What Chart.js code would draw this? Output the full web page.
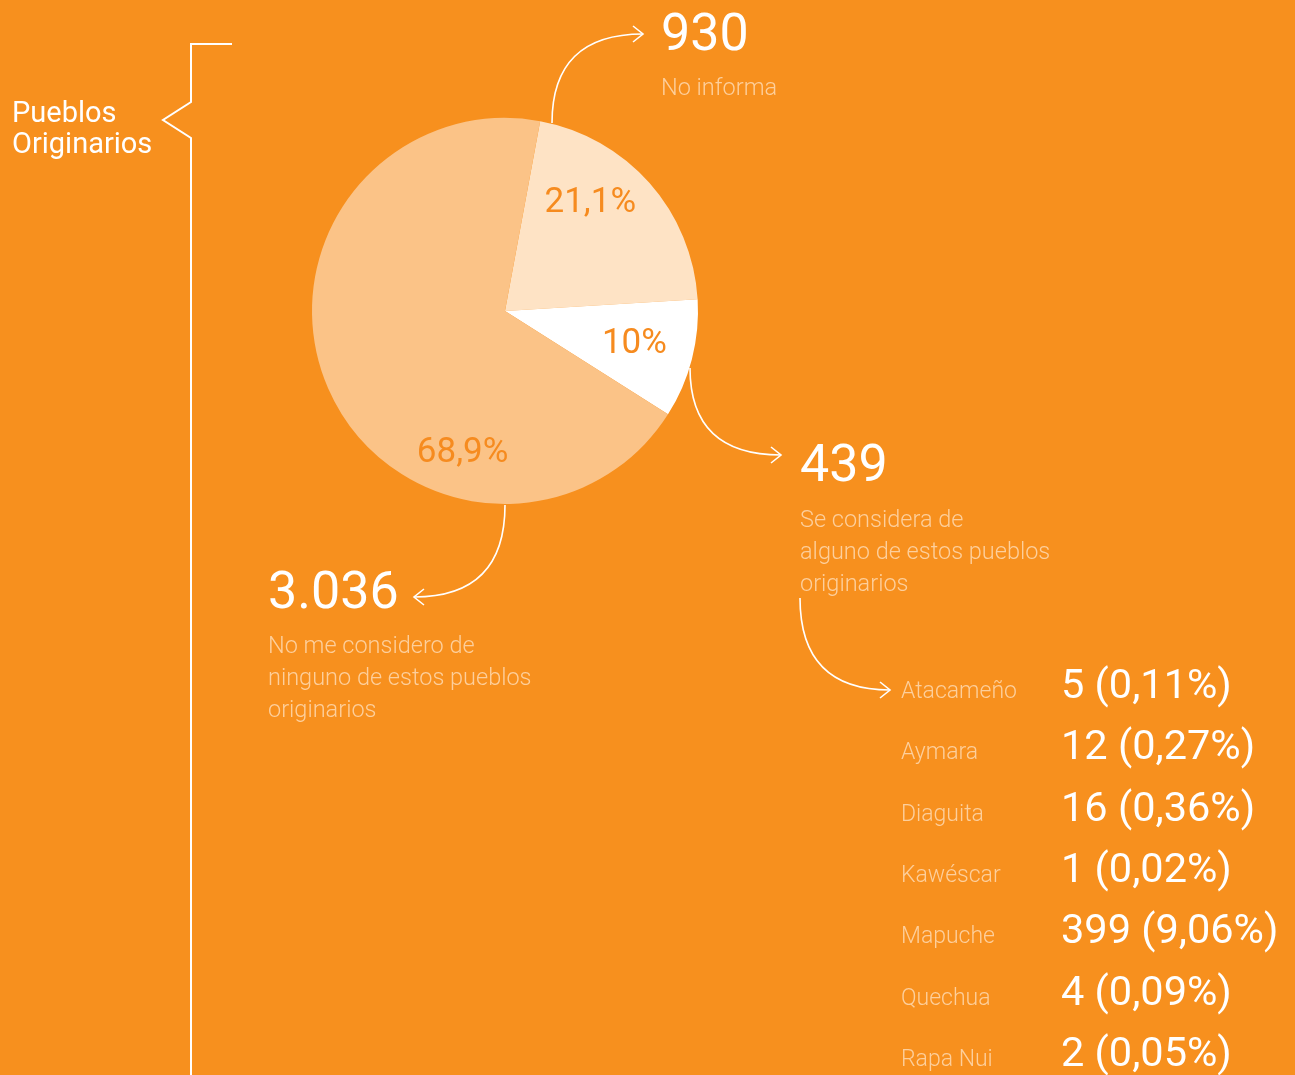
<!DOCTYPE html>
<html>
<head>
<meta charset="utf-8">
<script src="https://cdn.jsdelivr.net/npm/chart.js@4"></script>
<style>
  html, body { margin: 0; padding: 0; background: #F7901E; }
  #wrap { width: 1295px; height: 1075px; position: relative; }
</style>
</head>
<body>
<div id="wrap"><canvas id="myChart" width="1295" height="1075"></canvas></div>
<script>
// pie data
const categories = ['No informa', 'Se considera de alguno de estos pueblos originarios', 'No me considero de ninguno de estos pueblos originarios'];
const counts = [930, 439, 3036];
const pctLabels = ['21,1%', '10%', '68,9%'];

// breakdown of the 439
const pueblos = ['Atacameño', 'Aymara', 'Diaguita', 'Kawéscar', 'Mapuche', 'Quechua', 'Rapa Nui'];
const pueblosCounts = [5, 12, 16, 1, 399, 4, 2];
const pueblosPct = ['0,11%', '0,27%', '0,36%', '0,02%', '9,06%', '0,09%', '0,05%'];

const title = ['Pueblos', 'Originarios'];

const fmt = n => String(n).replace(/\B(?=(\d{3})+(?!\d))/g, '.');

const sliceColors = ['#FEE3C5', '#FFFFFF', '#FBC387'];
const descColor = '#FDCF9C';

function arrow(ctx, x0, y0, cx, cy, x1, y1, dir) {
  ctx.beginPath();
  ctx.moveTo(x0, y0);
  ctx.quadraticCurveTo(cx, cy, x1, y1);
  ctx.stroke();
  ctx.beginPath();
  ctx.moveTo(x1 - dir * 10, y1 - 8);
  ctx.lineTo(x1, y1);
  ctx.lineTo(x1 - dir * 10, y1 + 8);
  ctx.stroke();
}

const annotations = {
  id: 'annotations',
  afterDraw(chart) {
    const ctx = chart.ctx;
    const arcs = chart.getDatasetMeta(0).data;
    ctx.save();

    // percent labels inside slices
    const place = [[0.36, 0.72], [0.48, 0.69], [0.30, 0.76]];
    ctx.font = '400 35px Roboto';
    ctx.fillStyle = '#F68B1F';
    ctx.textAlign = 'center';
    ctx.textBaseline = 'middle';
    arcs.forEach((a, i) => {
      const ang = a.startAngle + (a.endAngle - a.startAngle) * place[i][0];
      const r = a.outerRadius * place[i][1];
      ctx.fillText(pctLabels[i], a.x + Math.cos(ang) * r, a.y + Math.sin(ang) * r + 2);
    });

    // bracket on the left
    ctx.strokeStyle = '#FFFFFF';
    ctx.lineWidth = 2;
    ctx.beginPath();
    ctx.moveTo(232, 44);
    ctx.lineTo(191, 44);
    ctx.lineTo(191, 102);
    ctx.lineTo(163, 120);
    ctx.lineTo(191, 138);
    ctx.lineTo(191, 1075);
    ctx.stroke();

    ctx.textAlign = 'left';
    ctx.textBaseline = 'alphabetic';
    ctx.fillStyle = '#FFFFFF';
    ctx.font = '400 29px Roboto';
    ctx.fillText(title[0], 12, 122);
    ctx.fillText(title[1], 12, 153);

    // arrows
    ctx.lineWidth = 1.6;
    arrow(ctx, 552, 123, 552, 34, 643, 34, 1);
    arrow(ctx, 690, 368, 690, 455, 781, 455, 1);
    arrow(ctx, 505, 505, 505, 597, 414, 597, -1);
    arrow(ctx, 800, 598, 800, 690, 890, 690, 1);

    // big numbers
    ctx.fillStyle = '#FFFFFF';
    ctx.font = '400 52px Roboto';
    ctx.fillText(fmt(counts[0]), 661, 50);
    ctx.fillText(fmt(counts[1]), 800, 481);
    ctx.fillText(fmt(counts[2]), 268, 608);

    // descriptions
    ctx.fillStyle = descColor;
    ctx.font = '300 23.5px Roboto';
    ctx.fillText(categories[0], 661, 95);
    ['Se considera de', 'alguno de estos pueblos', 'originarios'].forEach((t, i) => ctx.fillText(t, 800, 527 + i * 32));
    ['No me considero de', 'ninguno de estos pueblos', 'originarios'].forEach((t, i) => ctx.fillText(t, 268, 653 + i * 32));

    // breakdown list
    pueblos.forEach((p, i) => {
      const y = 698 + i * 61.3;
      ctx.fillStyle = descColor;
      ctx.font = '300 23px Roboto';
      ctx.fillText(p, 901, y);
      ctx.fillStyle = '#FFFFFF';
      ctx.font = '400 41.5px Roboto';
      ctx.fillText(pueblosCounts[i] + ' (' + pueblosPct[i] + ')', 1061, y);
    });

    ctx.restore();
  }
};

const ctx = document.getElementById('myChart').getContext('2d');
new Chart(ctx, {
  type: 'pie',
  data: {
    labels: categories,
    datasets: [{
      data: counts,
      backgroundColor: sliceColors,
      borderWidth: 0
    }]
  },
  options: {
    responsive: false,
    animation: false,
    rotation: 10.5,
    layout: { padding: { left: 312, top: 118, right: 597, bottom: 571 } },
    plugins: {
      legend: { display: false },
      tooltip: { enabled: false }
    }
  },
  plugins: [annotations]
})
</script>
</body>
</html>
